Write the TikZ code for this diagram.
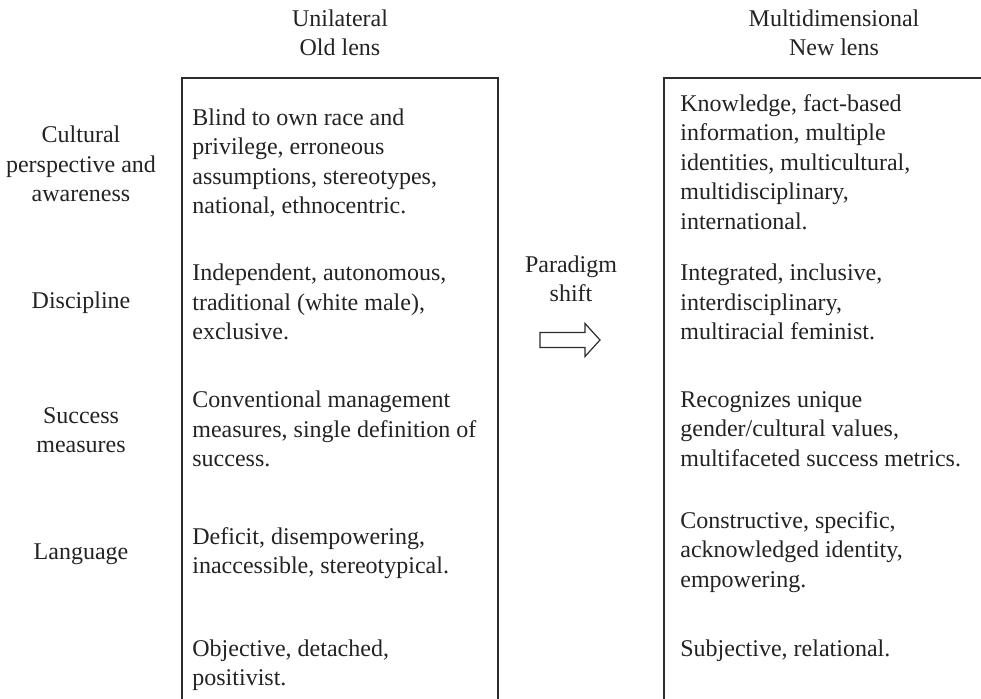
\documentclass[tikz,border=0pt]{standalone}
\usepackage{fontspec}
\setmainfont{Liberation Serif}
\usepackage{xcolor}
\definecolor{ink}{RGB}{35, 35, 35}
\definecolor{rule}{RGB}{45, 45, 45}

\tikzset{
  lbl/.style={align=center, inner sep=0pt, text=ink, font=\fontsize{12}{14.75}\selectfont},
  cell/.style={align=left, anchor=west, inner sep=0pt, text=ink, font=\fontsize{12}{14.75}\selectfont},
  frame/.style={color=rule, line width=0.9pt}
}

\begin{document}
\begin{tikzpicture}[x=0.5pt, y=-0.5pt]
        \useasboundingbox (0, 0) rectangle (981, 699);
        % headings
        \node[lbl] (oldhead) at (340, 33) {Unilateral\\Old lens};
        \node[lbl] (newhead) at (834, 33) {Multidimensional\\New lens};
        % the two lenses, open at the bottom
        \draw[frame] (182, 699) |- (498, 78) -- (498, 699);
        \draw[frame] (664, 699) |- (981, 78);
        % row labels
        \node[lbl] (culture) at (81, 164) {Cultural\\perspective and\\awareness};
        \node[lbl] (discipline) at (81, 303) {Discipline};
        \node[lbl] (success) at (81, 430) {Success\\measures};
        \node[lbl] (language) at (81, 554) {Language};
        % old lens
        \node[cell] (oldculture) at (192, 163) {Blind to own race and\\privilege, erroneous\\assumptions, stereotypes,\\national, ethnocentric.};
        \node[cell] (olddiscipline) at (192, 302) {Independent, autonomous,\\traditional (white male),\\exclusive.};
        \node[cell] (oldsuccess) at (192, 429) {Conventional management\\measures, single definition of\\success.};
        \node[cell] (oldlanguage) at (192, 553) {Deficit, disempowering,\\inaccessible, stereotypical.};
        \node[cell] (oldview) at (192, 665) {Objective, detached,\\positivist.};
        % new lens
        \node[cell] (newculture) at (680, 162) {Knowledge, fact-based\\information, multiple\\identities, multicultural,\\multidisciplinary,\\international.};
        \node[cell] (newdiscipline) at (680, 302) {Integrated, inclusive,\\interdisciplinary,\\multiracial feminist.};
        \node[cell] (newsuccess) at (680, 429) {Recognizes unique\\gender/cultural values,\\multifaceted success metrics.};
        \node[cell] (newlanguage) at (680, 552) {Constructive, specific,\\acknowledged identity,\\empowering.};
        \node[cell] (newview) at (680, 651) {Subjective, relational.};
        % paradigm shift
        \node[lbl] (shift) at (571, 279) {Paradigm\\shift};
        \coordinate (shiftarrow) at (540, 340);
        \draw[rule, line width=0.6pt, line join=miter] (shiftarrow) ++(0, -7.5) -- ++(45, 0) -- ++(0, -9) -- ++(15, 16.5)
            -- ++(-15, 16.5) -- ++(0, -9) -- ++(-45, 0) -- cycle;
    \end{tikzpicture}
\end{document}
